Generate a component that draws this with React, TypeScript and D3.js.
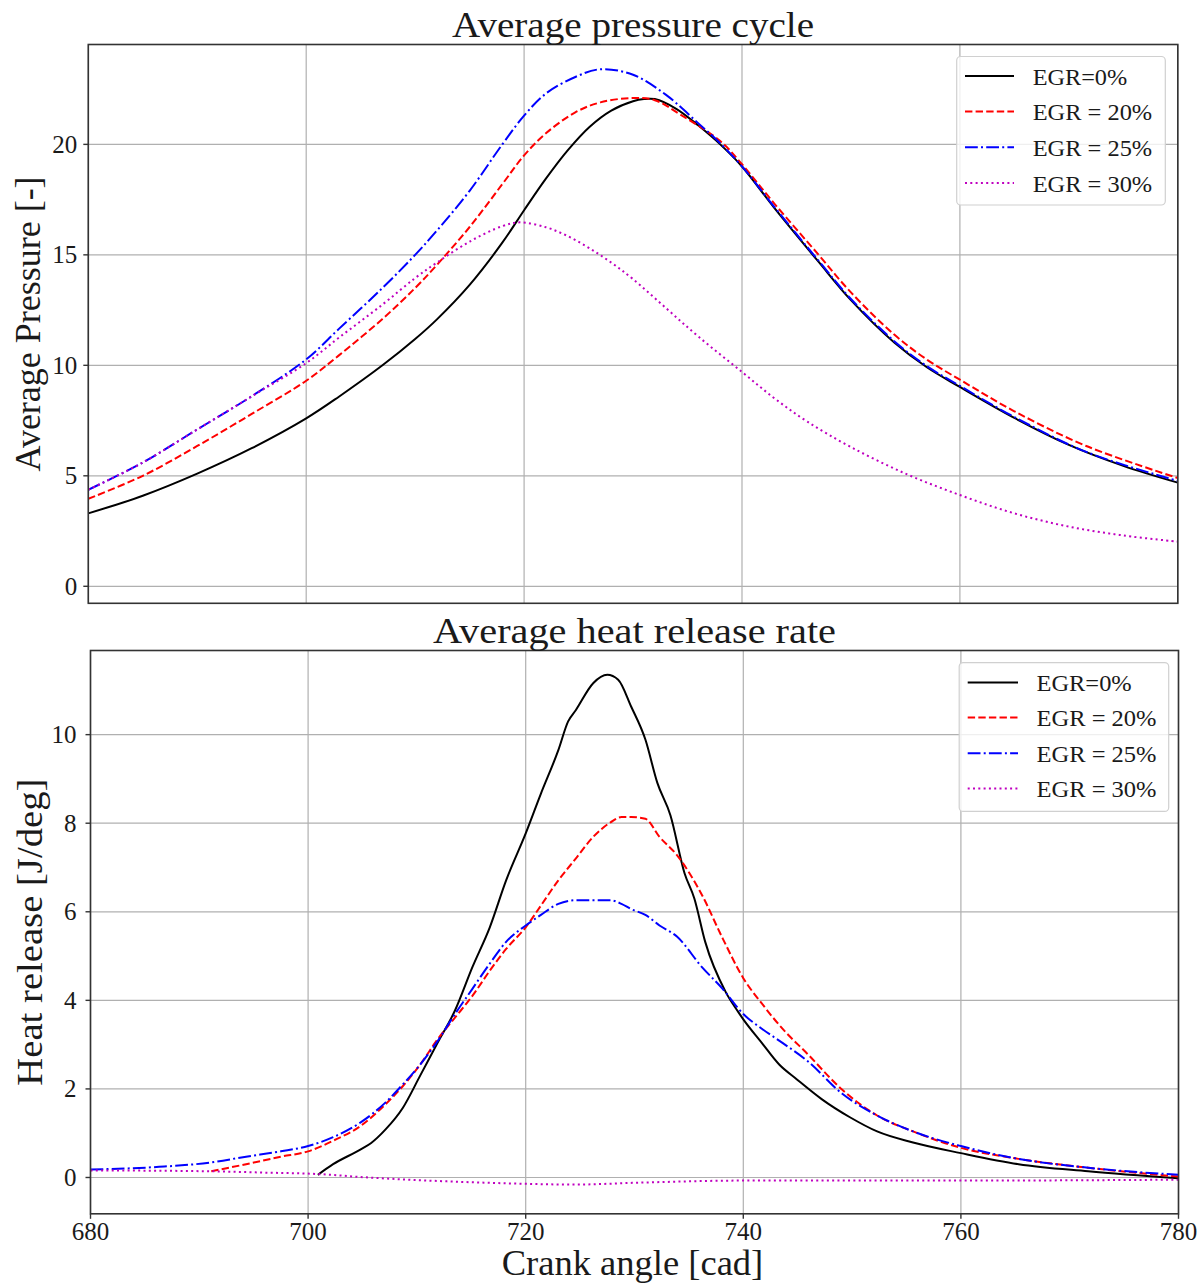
import React from 'react';
import * as d3 from 'd3';

// ---------- Data: average pressure (top panel) ----------
const pCad_EGR0 = [680, 685, 690, 695, 700, 703, 707, 710, 712, 715, 718, 720, 722, 724, 726, 728, 730, 731, 732, 734, 736, 738, 740, 743, 747, 750, 754, 757, 760, 765, 770, 775, 780];
const p_EGR0 = [3.3, 4.1, 5.1, 6.25, 7.6, 8.58, 10.0, 11.19, 12.08, 13.64, 15.55, 17.02, 18.45, 19.73, 20.79, 21.53, 21.95, 22.05, 22.05, 21.6, 20.85, 20.0, 19.0, 17.1, 14.7, 12.95, 11.02, 9.9, 9.02, 7.62, 6.4, 5.45, 4.69];

const pCad_EGR20 = [680, 685, 690, 695, 700, 703, 707, 710, 712, 715, 718, 720, 722, 724.7, 727, 730, 732, 734.5, 738, 740, 743, 747, 750, 754, 757, 760, 765, 771.6, 780];
const p_EGR20 = [3.96, 5.0, 6.35, 7.8, 9.3, 10.45, 12.1, 13.5, 14.55, 16.26, 18.2, 19.5, 20.5, 21.45, 21.9, 22.1, 22.0, 21.3, 20.15, 19.1, 17.3, 15.02, 13.3, 11.38, 10.25, 9.35, 7.92, 6.35, 4.9];

const pCad_EGR25 = [680, 685, 690, 695, 700, 703, 707, 710, 712, 715, 718, 720, 722, 724.7, 727, 730, 733, 736, 738, 740, 743, 747, 750, 754, 757, 760, 765, 771.6, 780];
const p_EGR25 = [4.37, 5.6, 7.1, 8.6, 10.27, 11.65, 13.5, 15.0, 16.1, 17.9, 20.0, 21.3, 22.3, 23.05, 23.4, 23.15, 22.25, 20.95, 20.05, 19.0, 17.15, 14.75, 13.0, 11.08, 9.95, 9.07, 7.66, 6.08, 4.77];

const pCad_EGR30 = [680, 685, 690, 695, 700, 703, 707, 710, 712, 715, 718, 719.6, 722, 724, 726, 728, 730, 733, 736, 740, 743, 746, 750, 755, 760, 765, 770, 775, 780];
const p_EGR30 = [4.37, 5.6, 7.1, 8.6, 10.1, 11.25, 12.75, 13.95, 14.65, 15.6, 16.3, 16.47, 16.25, 15.85, 15.3, 14.65, 13.9, 12.6, 11.3, 9.7, 8.5, 7.45, 6.3, 5.1, 4.13, 3.3, 2.7, 2.3, 2.02];

// ---------- Data: average heat release rate (bottom panel) ----------
const hCad_EGR0 = [700.9, 702.3, 704.8, 705.8, 707.1, 708.7, 710.3, 711.9, 713.5, 715.1, 716.7, 718.2, 720, 721.4, 723, 723.9, 724.6, 726.2, 727.5, 728.5, 729.7, 731, 732.1, 733.3, 734.6, 735.5, 736.5, 738.4, 739.5, 740, 741.7, 743.3, 744.9, 747.2, 749.8, 752.3, 755.6, 760, 765.3, 771.7, 780];
const h_EGR0 = [0.06, 0.3, 0.63, 0.78, 1.08, 1.57, 2.3, 3.04, 3.77, 4.75, 5.65, 6.71, 7.77, 8.67, 9.65, 10.3, 10.55, 11.16, 11.35, 11.24, 10.63, 9.89, 8.91, 8.18, 6.87, 6.3, 5.32, 4.18, 3.75, 3.57, 3.04, 2.55, 2.22, 1.77, 1.36, 1.04, 0.79, 0.55, 0.3, 0.14, -0.02];

const hCad_EGR20 = [691.1, 694.3, 697.5, 700, 702.3, 704.8, 707.1, 708.7, 710.3, 711.9, 713.5, 715.1, 716.7, 718.2, 720, 721.4, 723, 724.6, 726.2, 727.8, 728.8, 729.7, 731, 732.3, 733.9, 736.2, 738.1, 740, 741.7, 743.6, 745.9, 749.1, 752.3, 755.6, 760, 765.3, 771.7, 780];
const h_EGR20 = [0.14, 0.3, 0.47, 0.59, 0.83, 1.16, 1.65, 2.06, 2.55, 3.12, 3.61, 4.1, 4.67, 5.16, 5.65, 6.14, 6.71, 7.2, 7.69, 8.02, 8.14, 8.14, 8.1, 7.69, 7.28, 6.38, 5.4, 4.5, 3.93, 3.36, 2.79, 1.98, 1.4, 1.04, 0.67, 0.42, 0.22, 0.02];

const hCad_EGR25 = [680, 686.3, 691.1, 694.3, 697.5, 700, 702.3, 704.8, 707.1, 708.7, 710.3, 711.9, 713.5, 715.1, 716.7, 718.2, 720, 721.4, 723, 724.6, 726.2, 727.8, 728.8, 729.7, 731, 732.3, 733.9, 736.2, 738.1, 740, 741.7, 743.6, 745.9, 749.1, 752.3, 755.6, 760, 765.3, 771.7, 780];
const h_EGR25 = [0.18, 0.24, 0.34, 0.47, 0.59, 0.71, 0.91, 1.24, 1.69, 2.1, 2.55, 3.08, 3.69, 4.26, 4.83, 5.32, 5.69, 5.93, 6.18, 6.26, 6.26, 6.26, 6.18, 6.06, 5.93, 5.69, 5.44, 4.75, 4.26, 3.69, 3.36, 3.04, 2.63, 1.89, 1.4, 1.04, 0.71, 0.42, 0.22, 0.06];

const hCad_EGR30 = [680, 691, 696, 700.7, 705.5, 712, 718, 724.6, 730, 740, 760, 780];
const h_EGR30 = [0.16, 0.14, 0.11, 0.08, 0.0, -0.08, -0.13, -0.16, -0.12, -0.07, -0.07, -0.05];

// ---------- Labels / ticks ----------
const seriesLabels = ['EGR=0%', 'EGR = 20%', 'EGR = 25%', 'EGR = 30%'];
const xTicks = [680, 700, 720, 740, 760, 780];
const pTicks = [0, 5, 10, 15, 20];
const hTicks = [0, 2, 4, 6, 8, 10];

const FONT = '"Liberation Serif", "DejaVu Serif", serif';
const TEXT = '#1a1a1a';

const styles = [
  { color: '#000000', dash: undefined as string | undefined },
  { color: '#ff0000', dash: '7.4,3.2' },
  { color: '#0000ff', dash: '12.8,3.2,2,3.2' },
  { color: '#bf00bf', dash: '2,3.3' },
];

type Panel = {
  top: number;
  bottom: number;
  left: number;
  right: number;
  yDomain: [number, number];
  yTicks: number[];
  series: { cad: number[]; v: number[] }[];
  title: string;
  titleLen: number;
  titleBaseline: number;
  ylabel: string;
  ylabelLen: number;
  ylabelX: number;
  tickLabelEnd: number;
  legend: { x0: number; x1: number; y0: number; y1: number; hx0: number; hx1: number; tx: number; rows: number[]; widths: number[] };
  showX: boolean;
  smooth: boolean;
};

function PanelView({ p }: { p: Panel }) {
  const x = d3.scaleLinear().domain([680, 780]).range([p.left, p.right]);
  const y = d3.scaleLinear().domain(p.yDomain).range([p.bottom, p.top]);
  const line = d3
    .line<[number, number]>()
    .x((d) => x(d[0]))
    .y((d) => y(d[1]))
    .curve(p.smooth ? d3.curveCatmullRom.alpha(0.5) : d3.curveMonotoneX);
  const clipId = `clip-${Math.round(p.top)}`;
  const cx = (p.left + p.right) / 2;
  const cy = (p.top + p.bottom) / 2;
  const lg = p.legend;
  return (
    <g>
      <defs>
        <clipPath id={clipId}>
          <rect x={p.left} y={p.top} width={p.right - p.left} height={p.bottom - p.top} />
        </clipPath>
      </defs>
      {xTicks.map((t) => (
        <line key={'gx' + t} x1={x(t)} x2={x(t)} y1={p.top} y2={p.bottom} stroke="#b0b0b0" strokeWidth={1.2} />
      ))}
      {p.yTicks.map((t) => (
        <line key={'gy' + t} x1={p.left} x2={p.right} y1={y(t)} y2={y(t)} stroke="#b0b0b0" strokeWidth={1.2} />
      ))}
      <g clipPath={`url(#${clipId})`}>
        {p.series.map((s, i) => {
          const pts: [number, number][] = s.cad.map((c, k) => [c, s.v[k]]);
          return (
            <path
              key={'s' + i}
              d={line(pts) || ''}
              fill="none"
              stroke={styles[i].color}
              strokeWidth={2}
              strokeDasharray={styles[i].dash}
            />
          );
        })}
      </g>
      <rect x={p.left} y={p.top} width={p.right - p.left} height={p.bottom - p.top} fill="none" stroke="#333" strokeWidth={1.6} />
      {p.yTicks.map((t) => (
        <g key={'yt' + t}>
          <line x1={p.left - 5} x2={p.left} y1={y(t)} y2={y(t)} stroke="#333" strokeWidth={1.4} />
          <text x={p.tickLabelEnd} y={y(t) + 8.5} textAnchor="end" fontFamily={FONT} fontSize={25} fill={TEXT}>
            {t}
          </text>
        </g>
      ))}
      {p.showX &&
        xTicks.map((t) => (
          <g key={'xt' + t}>
            <line x1={x(t)} x2={x(t)} y1={p.bottom} y2={p.bottom + 5} stroke="#333" strokeWidth={1.4} />
            <text x={x(t)} y={p.bottom + 26} textAnchor="middle" fontFamily={FONT} fontSize={25} fill={TEXT}>
              {t}
            </text>
          </g>
        ))}
      <text
        x={cx}
        y={p.titleBaseline}
        textAnchor="middle"
        fontFamily={FONT}
        fontSize={36}
        fill={TEXT}
        textLength={p.titleLen}
        lengthAdjust="spacingAndGlyphs"
      >
        {p.title}
      </text>
      <text
        transform={`translate(${p.ylabelX},${cy}) rotate(-90)`}
        textAnchor="middle"
        fontFamily={FONT}
        fontSize={36}
        fill={TEXT}
        textLength={p.ylabelLen}
        lengthAdjust="spacingAndGlyphs"
      >
        {p.ylabel}
      </text>
      <rect
        x={lg.x0}
        y={lg.y0}
        width={lg.x1 - lg.x0}
        height={lg.y1 - lg.y0}
        rx={4}
        fill="white"
        fillOpacity={0.8}
        stroke="#d0d0d0"
        strokeWidth={1.2}
      />
      {seriesLabels.map((lab, i) => (
        <g key={'lg' + i}>
          <line
            x1={lg.hx0}
            x2={lg.hx1}
            y1={lg.rows[i]}
            y2={lg.rows[i]}
            stroke={styles[i].color}
            strokeWidth={2}
            strokeDasharray={styles[i].dash}
          />
          <text
            x={lg.tx}
            y={lg.rows[i] + 8.5}
            fontFamily={FONT}
            fontSize={24}
            fill={TEXT}
            textLength={lg.widths[i]}
            lengthAdjust="spacingAndGlyphs"
          >
            {lab}
          </text>
        </g>
      ))}
    </g>
  );
}

export default function App() {
  const topPanel: Panel = {
    top: 44.5,
    bottom: 603.3,
    left: 88.3,
    right: 1177.8,
    yDomain: [-0.77, 24.52],
    yTicks: pTicks,
    series: [
      { cad: pCad_EGR0, v: p_EGR0 },
      { cad: pCad_EGR20, v: p_EGR20 },
      { cad: pCad_EGR25, v: p_EGR25 },
      { cad: pCad_EGR30, v: p_EGR30 },
    ],
    title: 'Average pressure cycle',
    titleLen: 362,
    titleBaseline: 37,
    ylabel: 'Average Pressure [-]',
    ylabelLen: 295,
    ylabelX: 40,
    tickLabelEnd: 77.3,
    legend: { x0: 956.7, x1: 1165.3, y0: 56.5, y1: 205, hx0: 965, hx1: 1014, tx: 1032.7, rows: [76, 111.5, 147.3, 183], widths: [94.5, 119.5, 119.5, 119.5] },
    showX: false,
    smooth: true,
  };
  const bottomPanel: Panel = {
    top: 650.5,
    bottom: 1213.8,
    left: 90.5,
    right: 1178.5,
    yDomain: [-0.82, 11.9],
    yTicks: hTicks,
    series: [
      { cad: hCad_EGR0, v: h_EGR0 },
      { cad: hCad_EGR20, v: h_EGR20 },
      { cad: hCad_EGR25, v: h_EGR25 },
      { cad: hCad_EGR30, v: h_EGR30 },
    ],
    title: 'Average heat release rate',
    titleLen: 403,
    titleBaseline: 643,
    ylabel: 'Heat release [J/deg]',
    ylabelLen: 307,
    ylabelX: 42,
    tickLabelEnd: 76.5,
    legend: { x0: 959.2, x1: 1168.7, y0: 662.6, y1: 811.4, hx0: 967.7, hx1: 1018, tx: 1036.5, rows: [682.4, 717.4, 753.2, 788.5], widths: [95.2, 120, 120, 120] },
    showX: true,
    smooth: false,
  };
  return (
    <svg
      width={1202}
      height={1286}
      viewBox="0 0 1202 1286"
      style={{ position: 'absolute', left: 0, top: 0, background: 'white' }}
    >
      <rect x={0} y={0} width={1202} height={1286} fill="white" />
      <PanelView p={topPanel} />
      <PanelView p={bottomPanel} />
      <text
        x={632.5}
        y={1275}
        textAnchor="middle"
        fontFamily={FONT}
        fontSize={36}
        fill={TEXT}
        textLength={261.6}
        lengthAdjust="spacingAndGlyphs"
      >
        Crank angle [cad]
      </text>
    </svg>
  );
}
